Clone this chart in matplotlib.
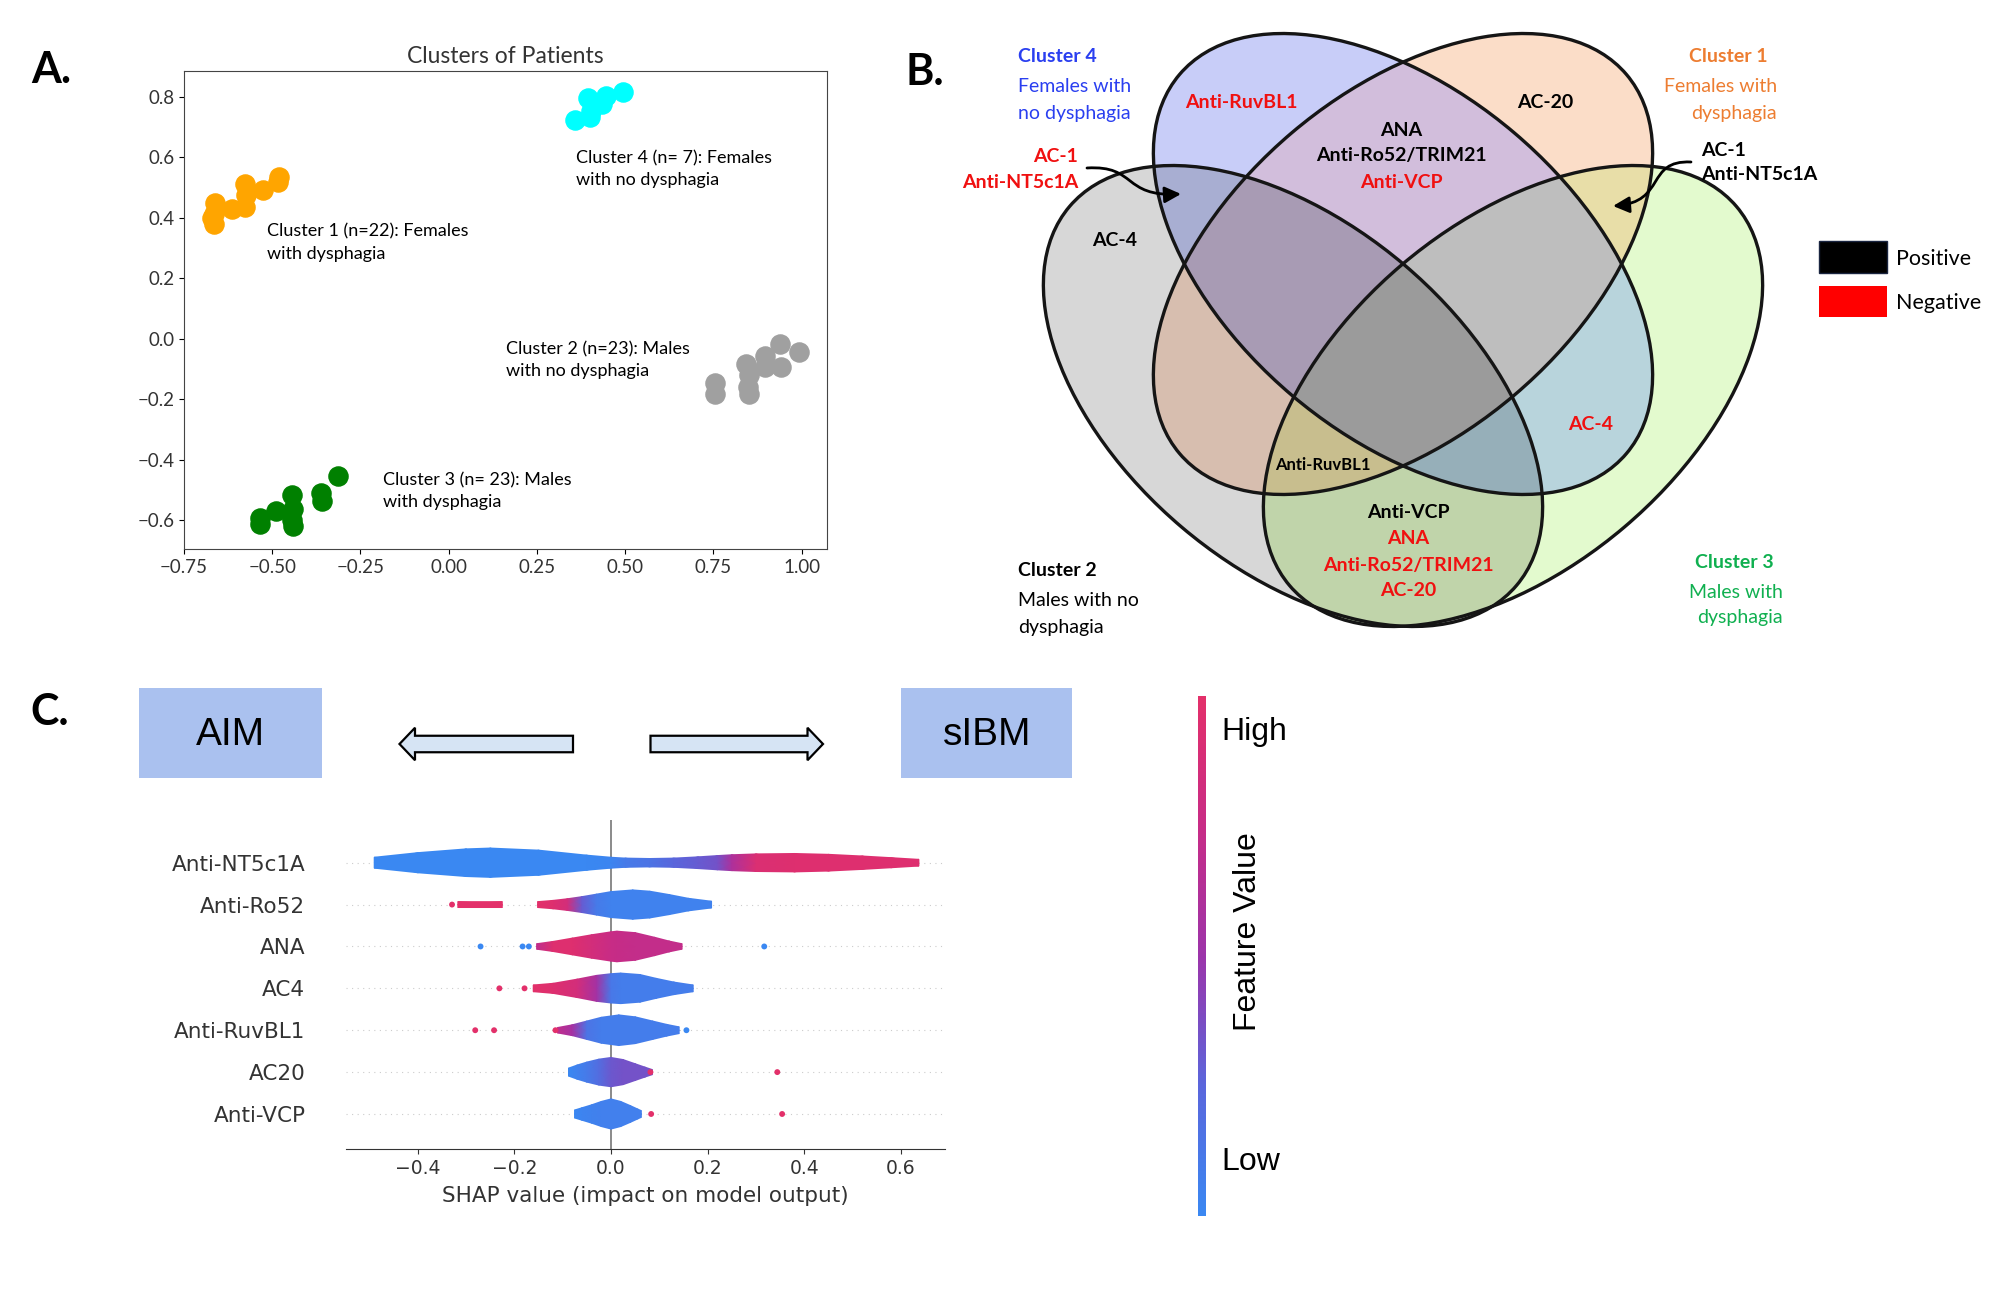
import numpy as np
import matplotlib
matplotlib.use('Agg')
import matplotlib.pyplot as plt
from matplotlib.patches import Ellipse, Rectangle, FancyArrow, FancyArrowPatch
from matplotlib.path import Path
from matplotlib.colors import LinearSegmentedColormap
from matplotlib.colorbar import ColorbarBase

W, H = 2000, 1294

# ---------------- panel A data (cluster scatter) ----------------
c1_x = [-0.670, -0.665, -0.665, -0.661, -0.615, -0.576, -0.576, -0.573, -0.527, -0.485, -0.481]
c1_y = [0.398, 0.379, 0.411, 0.449, 0.430, 0.436, 0.512, 0.474, 0.493, 0.518, 0.535]
c4_x = [0.358, 0.401, 0.396, 0.404, 0.435, 0.447, 0.493]
c4_y = [0.724, 0.733, 0.796, 0.752, 0.777, 0.803, 0.815]
c2_x = [0.755, 0.755, 0.842, 0.847, 0.850, 0.850, 0.896, 0.896, 0.939, 0.942, 0.992]
c2_y = [-0.145, -0.183, -0.082, -0.158, -0.183, -0.120, -0.094, -0.057, -0.019, -0.094, -0.044]
c3_x = [-0.535, -0.535, -0.488, -0.445, -0.445, -0.442, -0.442, -0.361, -0.358, -0.315]
c3_y = [-0.612, -0.593, -0.568, -0.518, -0.600, -0.562, -0.619, -0.511, -0.537, -0.454]

# ---------------- panel B data (venn) ----------------
# order: cluster 4 (blue), cluster 1 (orange), cluster 2 (gray), cluster 3 (green)
venn_cx = [1403, 1403, 1293, 1513]
venn_cy = [264, 264, 396, 396]
venn_ang = [40.3, -40.3, 40.3, -40.3]
venn_a, venn_b = 293, 172
# fill colour of every region, keyed by membership (blue, orange, gray, green)
region_rgb = {
    (1, 0, 0, 0): (200, 205, 248),
    (0, 1, 0, 0): (251, 221, 200),
    (0, 0, 1, 0): (215, 215, 215),
    (0, 0, 0, 1): (227, 250, 206),
    (1, 1, 0, 0): (210, 190, 220),
    (1, 0, 1, 0): (168, 174, 210),
    (1, 0, 0, 1): (184, 212, 220),
    (0, 1, 1, 0): (215, 190, 175),
    (0, 1, 0, 1): (232, 222, 168),
    (0, 0, 1, 1): (192, 212, 170),
    (1, 1, 1, 0): (168, 155, 180),
    (1, 1, 0, 1): (190, 190, 190),
    (1, 0, 1, 1): (150, 175, 185),
    (0, 1, 1, 1): (200, 190, 142),
    (1, 1, 1, 1): (155, 155, 155),
}

# ---------------- panel C data (shap violins) ----------------
features = ['Anti-NT5c1A', 'Anti-Ro52', 'ANA', 'AC4', 'Anti-RuvBL1', 'AC20', 'Anti-VCP']

nt5_x = [-0.49, -0.40, -0.30, -0.25, -0.15, -0.05, 0.0, 0.03, 0.08, 0.13, 0.18, 0.22, 0.25, 0.30, 0.38, 0.45, 0.52, 0.58, 0.637]
nt5_w = [0.13, 0.24, 0.33, 0.35, 0.30, 0.18, 0.13, 0.11, 0.10, 0.11, 0.14, 0.17, 0.19, 0.21, 0.22, 0.20, 0.16, 0.12, 0.08]
nt5_c = [0.0, 0.0, 0.0, 0.0, 0.0, 0.0, 0.02, 0.10, 0.15, 0.25, 0.30, 0.35, 0.60, 0.92, 0.95, 0.95, 0.95, 0.95, 0.95]

ro52_x = [-0.152, -0.12, -0.09, -0.06, -0.03, 0.0, 0.045, 0.08, 0.12, 0.16, 0.208]
ro52_w = [0.07, 0.10, 0.14, 0.19, 0.25, 0.31, 0.35, 0.32, 0.24, 0.15, 0.08]
ro52_c = [1.0, 0.95, 0.85, 0.30, 0.10, 0.05, 0.05, 0.05, 0.05, 0.05, 0.05]
ro52_bar_x = [-0.317, -0.225]
ro52_bar_w = [0.07, 0.07]
ro52_bar_c = [1.0, 1.0]

ana_x = [-0.154, -0.12, -0.08, -0.04, 0.0, 0.012, 0.05, 0.09, 0.12, 0.147]
ana_w = [0.065, 0.12, 0.20, 0.28, 0.35, 0.366, 0.33, 0.22, 0.13, 0.065]
ana_c = [0.70, 0.95, 0.95, 0.85, 0.75, 0.74, 0.72, 0.72, 0.72, 0.72]

ac4_x = [-0.161, -0.12, -0.07, -0.03, 0.0, 0.02, 0.06, 0.093, 0.13, 0.17]
ac4_w = [0.08, 0.12, 0.22, 0.31, 0.35, 0.365, 0.33, 0.24, 0.15, 0.08]
ac4_c = [1.0, 0.95, 0.85, 0.55, 0.12, 0.08, 0.08, 0.08, 0.08, 0.08]

ruv_x = [-0.111, -0.08, -0.05, -0.02, 0.016, 0.05, 0.086, 0.115, 0.141]
ruv_w = [0.064, 0.13, 0.22, 0.31, 0.366, 0.32, 0.22, 0.14, 0.08]
ruv_c = [0.70, 0.55, 0.15, 0.08, 0.08, 0.08, 0.08, 0.08, 0.08]

ac20_x = [-0.088, -0.07, -0.05, -0.025, 0.0, 0.025, 0.05, 0.07, 0.0856]
ac20_w = [0.095, 0.17, 0.24, 0.31, 0.35, 0.30, 0.20, 0.12, 0.06]
ac20_c = [0.0, 0.05, 0.10, 0.20, 0.32, 0.35, 0.35, 0.35, 0.35]

vcp_x = [-0.0755, -0.06, -0.04, -0.02, 0.0, 0.02, 0.04, 0.055, 0.0627]
vcp_w = [0.095, 0.15, 0.22, 0.30, 0.36, 0.30, 0.20, 0.12, 0.08]
vcp_c = [0.0, 0.03, 0.05, 0.06, 0.06, 0.06, 0.06, 0.06, 0.06]

# single dots (x, row, colour value)
dot_x = [-0.329, -0.270, -0.183, -0.170, 0.317, -0.231, -0.179, -0.281, -0.242, -0.115, 0.156, 0.0815, 0.344, 0.083, 0.354]
dot_row = [5, 4, 4, 4, 4, 3, 3, 2, 2, 2, 2, 1, 1, 0, 0]
dot_c = [1.0, 0.0, 0.0, 0.0, 0.0, 1.0, 1.0, 1.0, 1.0, 1.0, 0.0, 1.0, 1.0, 1.0, 1.0]

cmap = LinearSegmentedColormap.from_list(
    'shap_rb', ['#3a88f2', '#5a66dc', '#9c34aa', '#c82c86', '#e3306a'])

fig = plt.figure(figsize=(20, 12.94), dpi=100)


def px_axes(x0, y0, x1, y1):
    # axes placed in figure pixel coordinates (y measured from top)
    return fig.add_axes([x0 / W, 1 - y1 / H, (x1 - x0) / W, (y1 - y0) / H])


# overlay axes in pixel coordinates for the diagram parts
ov = fig.add_axes([0, 0, 1, 1])
ov.set_xlim(0, W)
ov.set_ylim(H, 0)
ov.axis('off')

LATO = 'Lato'
ARIAL = 'Liberation Sans'

# panel labels
for lab, x, y in [('A.', 51, 70), ('B.', 925, 72), ('C.', 50, 712)]:
    ov.text(x, y, lab, fontsize=31, fontweight='bold', family=LATO, ha='center', va='center')

# ---------------- panel A ----------------
axa = px_axes(184, 71, 827, 549)
axa.scatter(c1_x, c1_y, s=190, color='orange', zorder=3)
axa.scatter(c4_x, c4_y, s=190, color='cyan', zorder=3)
axa.scatter(c2_x, c2_y, s=190, color='#a0a0a0', zorder=3)
axa.scatter(c3_x, c3_y, s=190, color='green', zorder=3)
axa.set_xlim(-0.75, 1.072)
axa.set_ylim(-0.695, 0.885)
axa.set_xticks([-0.75, -0.5, -0.25, 0.0, 0.25, 0.5, 0.75, 1.0])
axa.set_yticks([-0.6, -0.4, -0.2, 0.0, 0.2, 0.4, 0.6, 0.8])
axa.set_xticklabels(['\u22120.75', '\u22120.50', '\u22120.25', '0.00', '0.25', '0.50', '0.75', '1.00'])
axa.set_yticklabels(['\u22120.6', '\u22120.4', '\u22120.2', '0.0', '0.2', '0.4', '0.6', '0.8'])
for t in axa.get_xticklabels() + axa.get_yticklabels():
    t.set_family(LATO)
    t.set_fontsize(13.5)
    t.set_color('#333333')
axa.set_title('Clusters of Patients', family=LATO, fontsize=16.5, color='#333333', pad=6)
for sp in axa.spines.values():
    sp.set_color('#444444')
ann_kw = dict(family=LATO, fontsize=13, va='center', ha='left', linespacing=1.45)
axa.text(-0.516, 0.318, 'Cluster 1 (n=22): Females\nwith dysphagia', **ann_kw)
axa.text(0.361, 0.561, 'Cluster 4 (n= 7): Females\nwith no dysphagia', **ann_kw)
axa.text(0.162, -0.071, 'Cluster 2 (n=23): Males\nwith no dysphagia', **ann_kw)
axa.text(-0.187, -0.503, 'Cluster 3 (n= 23): Males\nwith dysphagia', **ann_kw)

# ---------------- panel B (venn) ----------------
gx, gy = np.meshgrid(np.arange(1030, 1800) + 0.5, np.arange(20, 650) + 0.5)
member = []
for cx, cy, ang in zip(venn_cx, venn_cy, venn_ang):
    t = np.deg2rad(ang)
    u = (gx - cx) * np.cos(t) + (gy - cy) * np.sin(t)
    v = -(gx - cx) * np.sin(t) + (gy - cy) * np.cos(t)
    member.append((u / venn_a) ** 2 + (v / venn_b) ** 2 <= 1)
img = np.ones(gx.shape + (3,))
for key, rgb in region_rgb.items():
    mask = np.ones(gx.shape, bool)
    for m, k in zip(member, key):
        mask &= m if k else ~m
    img[mask] = np.array(rgb) / 255.0
ov.imshow(img, extent=(1030, 1800, 650, 20), origin='upper', aspect='auto', zorder=1)
for cx, cy, ang in zip(venn_cx, venn_cy, venn_ang):
    ov.add_patch(Ellipse((cx, cy), 2 * venn_a, 2 * venn_b, angle=ang, fill=False,
                         ec='#151515', lw=2.4, zorder=2))
ov.set_xlim(0, W)
ov.set_ylim(H, 0)

RED = '#f01010'
BLUE = '#2a3ff0'
ORANGE = '#ed7d31'
GREEN = '#10b050'
bk = dict(family=LATO, fontsize=14, fontweight='bold', ha='center', va='center', zorder=5)
ov.text(1241, 103, 'Anti-RuvBL1', color=RED, **bk)
ov.text(1545, 102, 'AC-20', color='black', **bk)
ov.text(1401, 131, 'ANA', color='black', **bk)
ov.text(1401, 156, 'Anti-Ro52/TRIM21', color='black', **bk)
ov.text(1401, 182, 'Anti-VCP', color=RED, **bk)
ov.text(1115, 240, 'AC-4', color='black', **bk)
ov.text(1591, 424, 'AC-4', color=RED, **bk)
ov.text(1323, 465, 'Anti-RuvBL1', color='black', family=LATO, fontsize=12, fontweight='bold',
        ha='center', va='center', zorder=5)
ov.text(1408, 513, 'Anti-VCP', color='black', **bk)
ov.text(1408, 539, 'ANA', color=RED, **bk)
ov.text(1408, 565, 'Anti-Ro52/TRIM21', color=RED, **bk)
ov.text(1408, 591, 'AC-20', color=RED, **bk)

bl = dict(bk, ha='right')
ov.text(1078, 156, 'AC-1', color=RED, **bl)
ov.text(1078, 182, 'Anti-NT5c1A', color=RED, **bl)
bl = dict(bk, ha='left')
ov.text(1701, 150, 'AC-1', color='black', **bl)
ov.text(1701, 175, 'Anti-NT5c1A', color='black', **bl)

# curved pointers
arr_kw = dict(arrowstyle='-|>,head_length=0.7,head_width=0.35', mutation_scale=14,
              color='black', lw=2.0, zorder=6)
p1 = Path([(1087, 168), (1137, 165), (1122, 197), (1181, 194)],
          [Path.MOVETO, Path.CURVE4, Path.CURVE4, Path.CURVE4])
ov.add_patch(FancyArrowPatch(path=p1, **arr_kw))
p2 = Path([(1691, 162), (1645, 160), (1667, 202), (1613, 206)],
          [Path.MOVETO, Path.CURVE4, Path.CURVE4, Path.CURVE4])
ov.add_patch(FancyArrowPatch(path=p2, **arr_kw))

# cluster captions
cap = dict(family=LATO, fontsize=14, va='center', zorder=5)
ov.text(1018, 56, 'Cluster 4', color=BLUE, fontweight='bold', ha='left', **cap)
ov.text(1018, 87, 'Females with', color=BLUE, ha='left', **cap)
ov.text(1018, 113, 'no dysphagia', color=BLUE, ha='left', **cap)
ov.text(1768, 56, 'Cluster 1', color=ORANGE, fontweight='bold', ha='right', **cap)
ov.text(1777, 87, 'Females with', color=ORANGE, ha='right', **cap)
ov.text(1777, 113, 'dysphagia', color=ORANGE, ha='right', **cap)
ov.text(1018, 570, 'Cluster 2', color='black', fontweight='bold', ha='left', **cap)
ov.text(1018, 601, 'Males with no', color='black', ha='left', **cap)
ov.text(1018, 628, 'dysphagia', color='black', ha='left', **cap)
ov.text(1734, 562, 'Cluster 3', color=GREEN, fontweight='bold', ha='center', **cap)
ov.text(1736, 592, 'Males with', color=GREEN, ha='center', **cap)
ov.text(1740, 618, 'dysphagia', color=GREEN, ha='center', **cap)

# legend
ov.add_patch(Rectangle((1819, 241), 68, 32, fc='black', ec='#1a2540', lw=1, zorder=5))
ov.add_patch(Rectangle((1819, 286), 68, 31, fc='#ff0000', ec='none', zorder=5))
ov.text(1896, 259, 'Positive', family=LATO, fontsize=15.5, ha='left', va='center')
ov.text(1896, 303, 'Negative', family=LATO, fontsize=15.5, ha='left', va='center')

# ---------------- panel C ----------------
BOX = '#aac1ef'
ov.add_patch(Rectangle((139, 688), 183, 90, fc=BOX, ec='none'))
ov.add_patch(Rectangle((901, 688), 171, 90, fc=BOX, ec='none'))
ov.text(230, 735, 'AIM', family=ARIAL, fontsize=28, ha='center', va='center')
ov.text(987, 735, 'sIBM', family=ARIAL, fontsize=28, ha='center', va='center')
fa = dict(width=16.5, head_width=32.5, head_length=15.5, length_includes_head=True,
          fc='#d6e4f4', ec='black', lw=1.6)
ov.add_patch(FancyArrow(573, 744, -173.5, 0, **fa))
ov.add_patch(FancyArrow(650.5, 744, 172.5, 0, **fa))

axc = px_axes(345.7, 820.4, 945, 1149)
axc.set_xlim(-0.549, 0.691)
axc.set_ylim(-0.836, 7.01)
for pos in range(len(features)):
    axc.axhline(pos, color='#cccccc', lw=0.8, dashes=(1, 4), zorder=-1)
axc.axvline(0, color='#8a8a8a', lw=1.4, zorder=-1)


def draw_violin(ax, pos, xs, hw, cv):
    xs = np.asarray(xs, float)
    hw = np.asarray(hw, float)
    cv = np.asarray(cv, float)
    X = np.vstack([xs, xs, xs])
    Y = np.vstack([pos - hw, np.full_like(hw, pos), pos + hw])
    C = np.vstack([cv, cv, cv])
    ax.pcolormesh(X, Y, C, shading='gouraud', cmap=cmap, vmin=0, vmax=1,
                  edgecolors='none', antialiased=True, zorder=2)


draw_violin(axc, 6, nt5_x, nt5_w, nt5_c)
draw_violin(axc, 5, ro52_x, ro52_w, ro52_c)
draw_violin(axc, 5, ro52_bar_x, ro52_bar_w, ro52_bar_c)
draw_violin(axc, 4, ana_x, ana_w, ana_c)
draw_violin(axc, 3, ac4_x, ac4_w, ac4_c)
draw_violin(axc, 2, ruv_x, ruv_w, ruv_c)
draw_violin(axc, 1, ac20_x, ac20_w, ac20_c)
draw_violin(axc, 0, vcp_x, vcp_w, vcp_c)
axc.scatter(dot_x, dot_row, c=dot_c, cmap=cmap, vmin=0, vmax=1, s=18, linewidths=0, zorder=3)

axc.set_yticks(range(len(features)))
axc.set_yticklabels(features[::-1], fontsize=15.5, color='#333333', family='DejaVu Sans')
axc.tick_params(axis='y', length=0, pad=29)
axc.set_xticks([-0.4, -0.2, 0.0, 0.2, 0.4, 0.6])
axc.set_xticklabels(['\u22120.4', '\u22120.2', '0.0', '0.2', '0.4', '0.6'])
axc.tick_params(axis='x', labelsize=13.5, labelcolor='#333333', color='#333333')
axc.set_xlabel('SHAP value (impact on model output)', fontsize=15.5, color='#333333', labelpad=6)
for side in ['top', 'right', 'left']:
    axc.spines[side].set_visible(False)
axc.spines['bottom'].set_color('#333333')
axc.patch.set_alpha(0)

cax = px_axes(1198, 696, 1206, 1216)
cb = ColorbarBase(cax, cmap=cmap, orientation='vertical')
cb.set_ticks([])
cb.outline.set_visible(False)
ov.text(1221, 732, 'High', family=ARIAL, fontsize=23, ha='left', va='center')
ov.text(1221, 1162, 'Low', family=ARIAL, fontsize=23, ha='left', va='center')
ov.text(1248, 932, 'Feature Value', family=ARIAL, fontsize=23, rotation=90, ha='center', va='center')

fig.savefig('out.png', dpi=100, facecolor='white')
